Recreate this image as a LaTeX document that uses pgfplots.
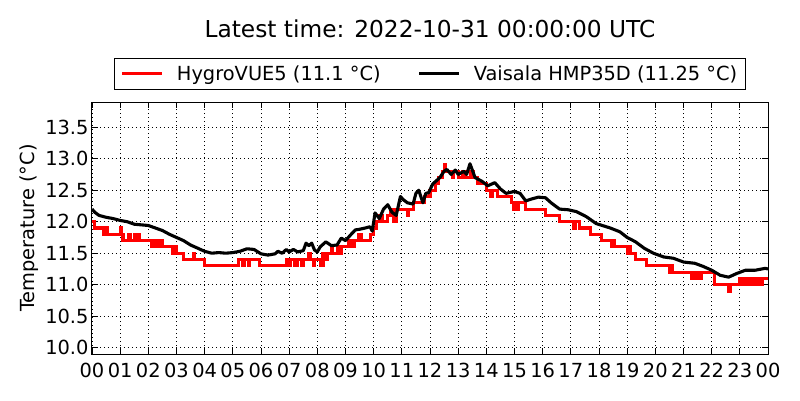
\documentclass[border=0pt]{standalone}
\usepackage{fontspec}
\setmainfont{DejaVu Sans}
\usepackage{pgfplots}
\pgfplotsset{compat=1.18}
\begin{document}
\begin{tikzpicture}[x=1pt,y=1pt]
\path[use as bounding box] (-92,-46) rectangle (708,354);
\begin{axis}[
  at={(0,0)}, anchor=south west,
  scale only axis, width=676pt, height=252pt,
  xmin=0, xmax=24, ymin=9.9, ymax=13.9,
  xtick={0,1,...,24},
  xticklabels={00,01,02,03,04,05,06,07,08,09,10,11,12,13,14,15,16,17,18,19,20,21,22,23,00},
  ytick={10,10.5,11,11.5,12,12.5,13,13.5},
  yticklabel style={/pgf/number format/.cd, fixed, fixed zerofill, precision=1},
  xticklabel style={yshift=-6pt},
  /pgf/number format/assume math mode=true,
  tick align=inside,
  major tick length=5.6pt,
  tick style={black, line width=0.8pt},
  axis line style={black, line width=1pt},
  grid=major,
  major grid style={black, line width=0.8pt, dash pattern=on 1pt off 3pt},
  ticklabel style={font=\fontsize{19.4}{23}\selectfont},
  ylabel={Temperature (°C)},
  ylabel style={at={(axis description cs:-0.0932,0.5)}, anchor=center, font=\fontsize{19.4}{23}\selectfont},
  title={Latest time: 2022-10-31 00:00:00 UTC},
  title style={at={(axis description cs:0.5,1)}, anchor=center, yshift=67pt, font=\fontsize{23.3}{28}\selectfont},
  legend columns=2,
  legend style={at={(axis description cs:0.5,1.048)}, anchor=south, draw=black, line width=0.8pt,
    font=\fontsize{19.4}{23}\selectfont, inner xsep=6pt, inner ysep=5.5pt,
    nodes={inner sep=2pt},
    /tikz/every odd column/.append style={column sep=11pt},
    /tikz/every even column/.append style={column sep=35pt}},
  legend image code/.code={\draw[#1] (0pt,0pt) -- (40pt,0pt);},
]
\addplot[red, line width=3.1pt, const plot] coordinates {
(0,12.0) (0.1,11.9) (0.4,11.8) (0.5,11.9) (0.55,11.8) (1.0,11.9) (1.05,11.8) (1.1,11.7)
(1.3,11.8) (1.35,11.7) (1.5,11.8) (1.55,11.7) (1.65,11.8) (1.7,11.7) (2.1,11.6) (2.2,11.7)
(2.25,11.6) (2.35,11.7) (2.4,11.6) (2.45,11.7) (2.5,11.6) (2.85,11.5) (2.95,11.6) (3.0,11.5)
(3.25,11.4) (3.6,11.5) (3.65,11.4) (4.0,11.3) (5.2,11.4) (5.35,11.3) (5.4,11.4) (5.55,11.3)
(5.6,11.4) (5.95,11.3) (6.9,11.4) (7.0,11.3) (7.05,11.4) (7.2,11.3) (7.3,11.4) (7.45,11.3)
(7.5,11.4) (7.7,11.5) (7.75,11.4) (7.85,11.3) (7.9,11.4) (8.1,11.3) (8.2,11.5) (8.3,11.4)
(8.35,11.5) (8.5,11.6) (8.55,11.5) (8.7,11.6) (8.8,11.5) (8.85,11.6) (9.1,11.7) (9.2,11.6)
(9.3,11.7) (9.45,11.8) (9.55,11.7) (9.9,11.8) (10.0,11.9) (10.1,12.0) (10.2,12.1) (10.3,12.0)
(10.5,12.1) (10.6,12.2) (10.7,12.0) (10.8,12.2) (11.0,12.2) (11.2,12.1) (11.25,12.2) (11.4,12.3)
(11.8,12.4) (12.0,12.5) (12.2,12.6) (12.3,12.7) (12.45,12.8) (12.5,12.9) (12.55,12.8) (12.8,12.7)
(12.85,12.8) (13.0,12.7) (13.15,12.8) (13.25,12.7) (13.45,12.8) (13.55,12.7) (13.7,12.6) (14.0,12.5)
(14.15,12.4) (14.2,12.5) (14.4,12.4) (14.9,12.3) (14.95,12.2) (15.05,12.3) (15.1,12.2) (15.15,12.3)
(15.4,12.2) (16.1,12.1) (16.6,12.0) (17.1,11.9) (17.15,12.0) (17.3,11.9) (17.7,11.8) (18.1,11.7)
(18.45,11.6) (18.5,11.7) (18.55,11.6) (19.0,11.5) (19.05,11.6) (19.1,11.5) (19.3,11.4) (19.7,11.3)
(20.5,11.2) (20.55,11.3) (20.6,11.2) (21.3,11.1) (21.35,11.2) (21.45,11.1) (21.5,11.2) (21.6,11.1)
(21.65,11.2) (22.1,11.0) (22.6,10.9) (22.65,11.0) (23.0,11.1) (23.1,11.0) (23.2,11.1) (23.3,11.0)
(23.4,11.1) (23.5,11.0) (23.6,11.1) (23.7,11.0) (23.8,11.1) (24.0,11.1)
};
\addlegendentry{HygroVUE5 (11.1 °C)}
\addplot[black, line width=3.1pt, line join=round] coordinates {
(0,12.2) (0.1,12.15) (0.25,12.1) (0.5,12.07) (0.75,12.05) (1.0,12.02) (1.25,12.0) (1.5,11.96)
(1.75,11.95) (2.0,11.94) (2.25,11.9) (2.5,11.86) (2.75,11.8) (3.0,11.75) (3.25,11.7) (3.5,11.63)
(3.75,11.58) (4.0,11.53) (4.25,11.5) (4.5,11.51) (4.75,11.5) (5.0,11.51) (5.25,11.53) (5.5,11.57)
(5.75,11.56) (6.0,11.49) (6.25,11.47) (6.5,11.49) (6.6,11.53) (6.75,11.5) (6.9,11.56) (7.0,11.52)
(7.15,11.56) (7.3,11.52) (7.5,11.54) (7.6,11.66) (7.7,11.62) (7.8,11.66) (7.9,11.55) (8.0,11.52)
(8.1,11.6) (8.3,11.68) (8.5,11.62) (8.7,11.63) (8.85,11.74) (9.0,11.7) (9.2,11.8) (9.35,11.87)
(9.5,11.88) (9.7,11.9) (9.87,11.92) (9.95,11.85) (10.05,12.14) (10.2,12.05) (10.35,12.2) (10.5,12.27)
(10.65,12.15) (10.8,12.1) (10.95,12.4) (11.05,12.35) (11.2,12.3) (11.4,12.28) (11.5,12.45) (11.6,12.5)
(11.75,12.3) (11.85,12.45) (11.95,12.46) (12.1,12.6) (12.35,12.7) (12.5,12.8) (12.6,12.83) (12.75,12.75)
(12.9,12.82) (13.0,12.75) (13.2,12.8) (13.3,12.75) (13.42,12.92) (13.6,12.7) (13.85,12.64) (14.05,12.57)
(14.3,12.62) (14.5,12.52) (14.7,12.45) (15.0,12.48) (15.2,12.45) (15.4,12.33) (15.6,12.36) (15.85,12.39)
(16.1,12.38) (16.3,12.3) (16.6,12.2) (16.9,12.19) (17.2,12.16) (17.55,12.08) (17.9,11.97) (18.4,11.9)
(18.74,11.84) (19.0,11.75) (19.3,11.68) (19.6,11.58) (19.93,11.5) (20.3,11.44) (20.64,11.42) (21.0,11.36)
(21.4,11.34) (21.7,11.29) (22.0,11.23) (22.3,11.15) (22.6,11.12) (22.9,11.18) (23.2,11.23) (23.55,11.23)
(23.9,11.26) (24.0,11.25)
};
\addlegendentry{Vaisala HMP35D (11.25 °C)}
\end{axis}
\end{tikzpicture}
\end{document}
